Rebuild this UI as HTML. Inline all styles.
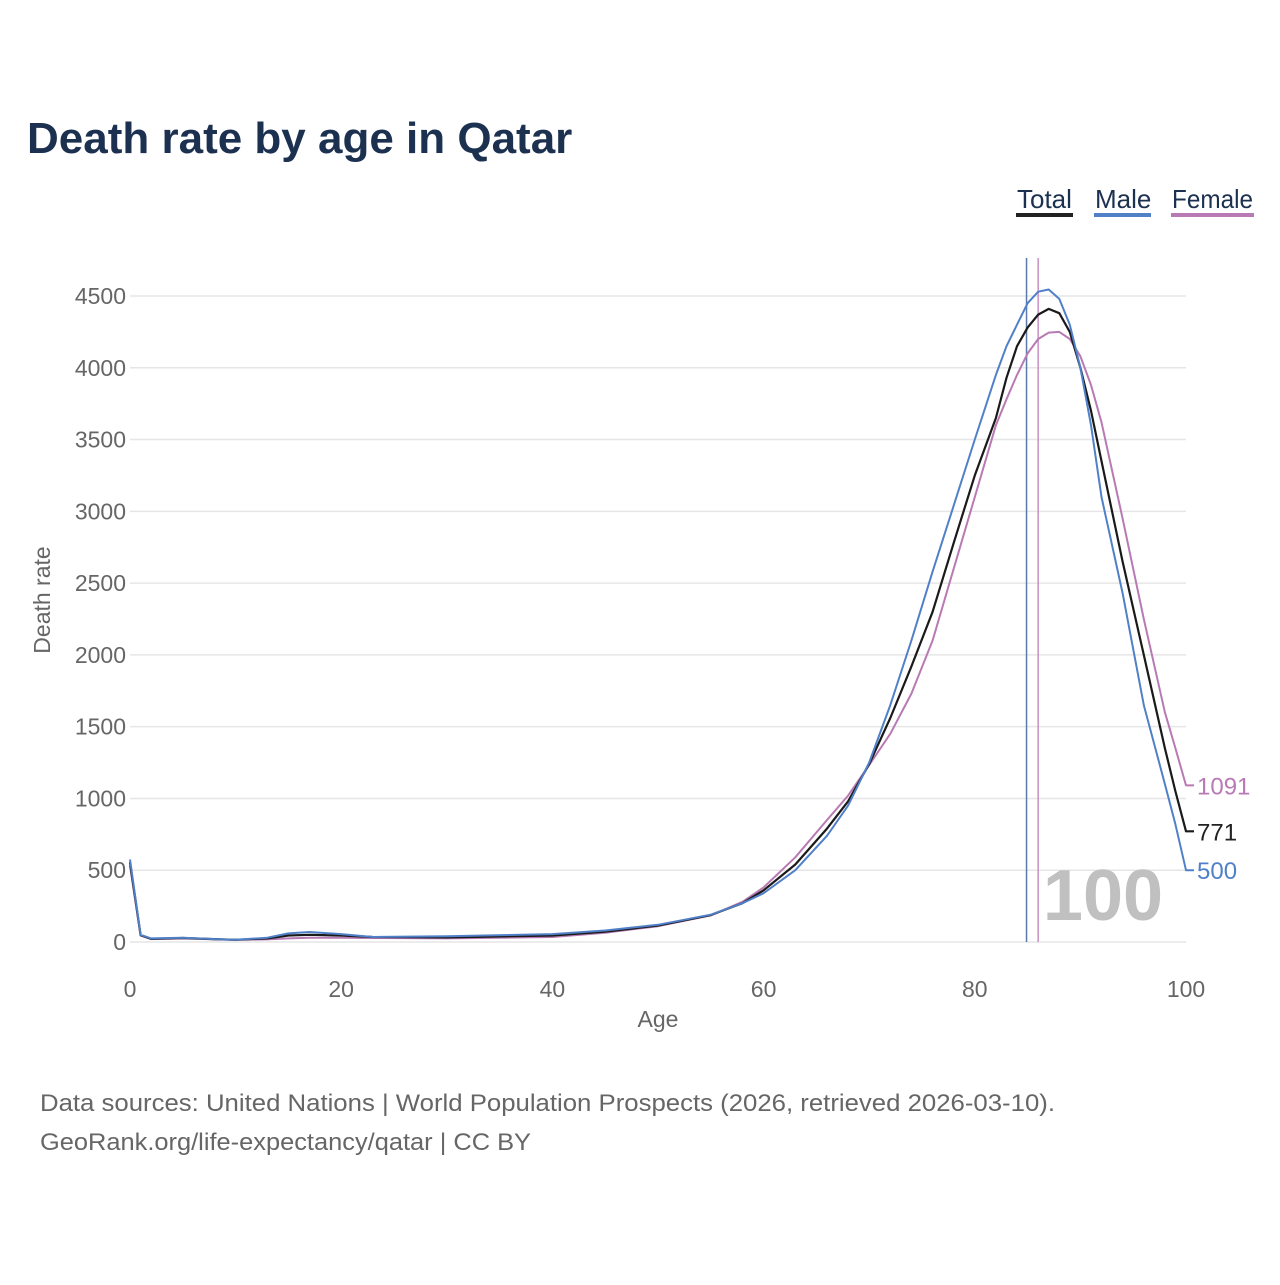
<!DOCTYPE html>
<html><head><meta charset="utf-8">
<style>
html,body{margin:0;padding:0;background:#fff;}
body{width:1280px;height:1280px;overflow:hidden;font-family:"Liberation Sans",sans-serif;}
</style></head>
<body>
<svg id="chart" width="1280" height="1280" xmlns="http://www.w3.org/2000/svg">
<text x="27" y="153" font-size="44" font-weight="bold" fill="#1c3050">Death rate by age in Qatar</text>
<g>
 <g><text x="1017" y="208" font-size="26" fill="#1c3050">Total</text><rect x="1016" y="213" width="57" height="4" fill="#222"/></g>
 <g><text x="1095" y="208" font-size="26" fill="#1c3050">Male</text><rect x="1094" y="213" width="57" height="4" fill="#5080c8"/></g>
 <g><text x="1172" y="208" font-size="26" fill="#1c3050" textLength="81" lengthAdjust="spacingAndGlyphs">Female</text><rect x="1171" y="213" width="83" height="4" fill="#b87ab4"/></g>
</g>
<g id="grid"></g>
<g id="series"></g>
<text x="658" y="1027" font-size="23" fill="#666" text-anchor="middle">Age</text>
<text transform="translate(50,600) rotate(-90)" font-size="23" fill="#666" text-anchor="middle">Death rate</text>
<text x="40" y="1111" font-size="24" fill="#666" textLength="1015" lengthAdjust="spacingAndGlyphs">Data sources: United Nations | World Population Prospects (2026, retrieved 2026-03-10).</text>
<text x="40" y="1150" font-size="24" fill="#666" textLength="491" lengthAdjust="spacingAndGlyphs">GeoRank.org/life-expectancy/qatar | CC BY</text>
</svg>
<script>
const ages   = [0,1,2,5,8,10,13,15,17,20,23,30,40,45,50,55,58,60,63,66,68,70,72,74,76,78,80,82,83,84,85,86,87,88,89,90,91,92,94,96,98,99,100];
const total  = [555,48,22,28,20,15,25,45,50,45,35,32,45,72,115,188,270,360,540,790,980,1240,1560,1920,2300,2780,3250,3650,3930,4150,4280,4370,4410,4380,4250,4000,3700,3350,2650,2000,1350,1050,771];
const male   = [575,50,25,30,20,15,30,60,70,55,35,40,55,80,120,190,270,340,500,740,950,1250,1650,2100,2580,3040,3500,3950,4150,4300,4450,4530,4545,4480,4300,4000,3600,3100,2430,1650,1100,820,500];
const female = [530,45,20,25,18,15,18,25,30,30,28,25,35,65,110,185,280,380,590,850,1020,1233,1450,1730,2100,2600,3100,3600,3780,3950,4100,4200,4245,4250,4200,4080,3880,3620,2950,2250,1600,1350,1091];
const yTicks = [0,500,1000,1500,2000,2500,3000,3500,4000,4500];
const xTicks = [0,20,40,60,80,100];
const lifeExpMale = 84.9, lifeExpFemale = 86.0;

const NS="http://www.w3.org/2000/svg";
const X=a=>130+a*10.56;
const Y=v=>942-v*0.14356;
const grid=document.getElementById('grid'), ser=document.getElementById('series');
function mk(tag,attrs,parent){const e=document.createElementNS(NS,tag);for(const k in attrs)e.setAttribute(k,attrs[k]);parent.appendChild(e);return e;}
yTicks.forEach(t=>{
  const l=mk('line',{x1:130,x2:1186,y1:Y(t),y2:Y(t),stroke:'#e6e6e6','stroke-width':1.5},grid);
  
  
  const tx=mk('text',{x:126,y:Y(t)+8,'font-size':23,fill:'#666','text-anchor':'end'},grid);
  tx.textContent=t;
  
  
});
xTicks.forEach(t=>{
  const tx=mk('text',{x:X(t),y:997,'font-size':23,fill:'#666','text-anchor':'middle'},grid);
  tx.textContent=t;
  
  
});
const big=mk('text',{x:1103,y:920,'font-size':72,'font-weight':'bold',fill:'#c0c0c0','text-anchor':'middle'},ser);
big.textContent='100';


const vm=mk('line',{x1:X(lifeExpMale),x2:X(lifeExpMale),y1:258,y2:942,stroke:'#5a7aaa','stroke-width':1.5},ser);


const vf=mk('line',{x1:X(lifeExpFemale),x2:X(lifeExpFemale),y1:258,y2:942,stroke:'#c890c4','stroke-width':1.5},ser);


const series=[['female',female,'#b87ab4',2,'#b87ab4'],['total',total,'#1a1a1a',2.2,'#222'],['male',male,'#5080c8',2,'#5080c8']];
series.forEach((s,i)=>{
  const [name,vals,col,w,lc]=s;
  const d=ages.map((a,j)=>(j?'L':'M')+X(a).toFixed(1)+','+Y(vals[j]).toFixed(1)).join(' ')+' L'+(X(100)+8)+','+Y(vals[vals.length-1]).toFixed(1);
  const p=mk('path',{d:d,fill:'none',stroke:col,'stroke-width':w,'stroke-linejoin':'round'},ser);
  
  
  const last=vals[vals.length-1];
  const lb=mk('text',{x:1197,y:Y(last)+9,'font-size':24,fill:lc},ser);
  lb.textContent=String(last);
  
  
});
</script>
</body></html>
